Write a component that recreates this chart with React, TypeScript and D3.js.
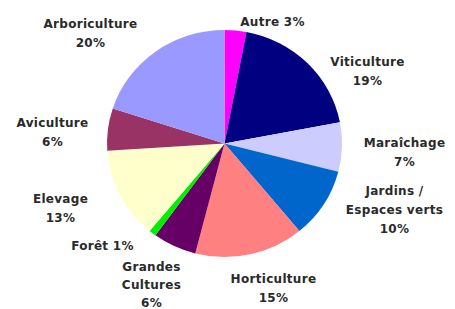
import {useEffect, useRef} from "react";
import * as d3 from "d3";

// Data
const categories = ["Autre", "Viticulture", "Maraîchage", "Jardins / Espaces verts", "Horticulture", "Grandes Cultures", "Forêt", "Elevage", "Aviculture", "Arboriculture"];
const shares = [3, 19, 7, 10, 15, 6, 1, 13, 6, 20];
const colors = ["#ff00ff", "#000080", "#ccccff", "#0066cc", "#ff8080", "#660066", "#00ee00", "#ffffcc", "#993366", "#9999ff"];

// label text lines
const labelLines = [
    ["Autre 3%"],
    ["Viticulture", "19%"],
    ["Maraîchage", "7%"],
    ["Jardins /", "Espaces verts", "10%"],
    ["Horticulture", "15%"],
    ["Grandes", "Cultures", "6%"],
    ["Forêt 1%"],
    ["Elevage", "13%"],
    ["Aviculture", "6%"],
    ["Arboriculture", "20%"]
];
// label centre (first line) relative to pie centre
const labelPos = [[48, -122], [143, -82], [180, -1], [170, 47], [49, 135], [-73, 123], [-122, 102], [-164, 55], [-172, -21], [-134, -120]];
const lineGap = [19, 19, 19, 19, 19, 18, 19, 19, 19, 19];

const W = 455, H = 309;
const cx = 224.5, cy = 143.5, R = 113.5, sx = 117.5 / 113.5;

const App = () => {
    const svgRef = useRef<SVGSVGElement>(null);

    useEffect(() => {
        const svg = d3.select(svgRef.current);
        svg.selectAll("*").remove();

        const pie = d3.pie<number>().sort(null).value(d => d);
        const arc = d3.arc<d3.PieArcDatum<number>>().innerRadius(0).outerRadius(R);

        const g = svg.append("g").attr("transform", `translate(${cx},${cy}) scale(${sx},1)`);
        g.selectAll("path")
            .data(pie(shares))
            .enter()
            .append("path")
            .attr("d", arc)
            .attr("fill", (d, i) => colors[i]);

        const labels = svg.append("g")
            .attr("font-family", "'DejaVu Sans', sans-serif")
            .attr("font-size", 12)
            .attr("font-weight", "bold")
            .attr("letter-spacing", 0.3)
            .attr("fill", "#2a2a2a");

        categories.forEach((c, i) => {
            const t = labels.append("text")
                .attr("text-anchor", "middle")
                .attr("x", cx + labelPos[i][0])
                .attr("y", cy + labelPos[i][1]);
            labelLines[i].forEach((line, j) => {
                t.append("tspan")
                    .attr("x", cx + labelPos[i][0])
                    .attr("dy", j === 0 ? "0.35em" : lineGap[i])
                    .text(line);
            });
        });
    }, []);

    return (
        <svg ref={svgRef} width={W} height={H}
             style={{position: "absolute", left: 0, top: 0, background: "#fff"}}/>
    );
};

export default App;
